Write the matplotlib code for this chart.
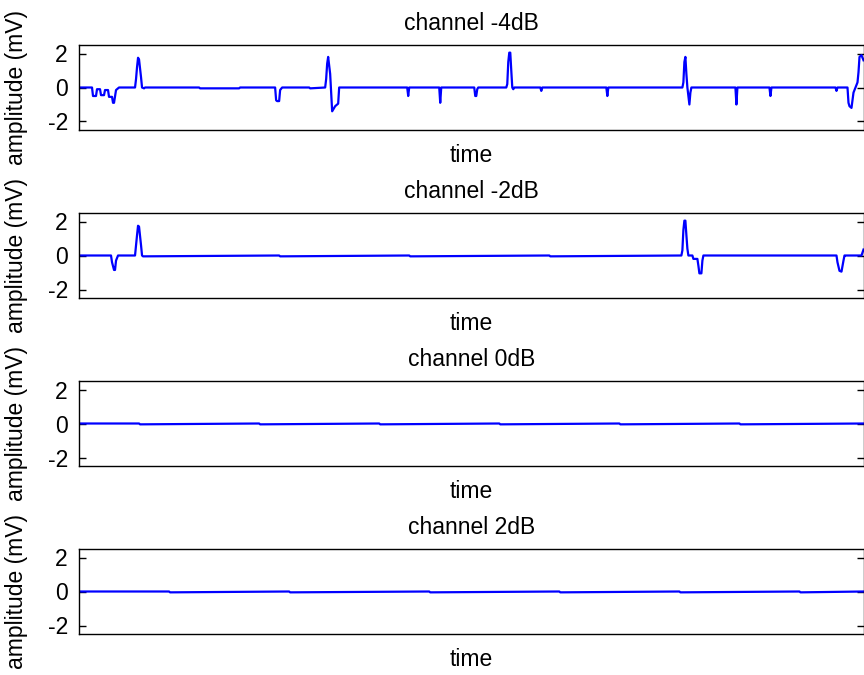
import matplotlib
matplotlib.use("Agg")
import matplotlib.pyplot as plt

# ---------------- data ----------------
titles = ["channel -4dB", "channel -2dB", "channel 0dB", "channel 2dB"]
x_label = "time"
y_label = "amplitude (mV)"
y_ticks = [-2, 0, 2]

# channel -4dB : breakpoints (time, amplitude)
t1 = [0, 13, 14, 17, 18, 21, 22, 25, 26, 29, 30, 33, 34, 35, 37, 40, 56, 57, 58, 59, 60, 62, 63, 65,
      66, 120, 121, 160, 161, 196, 197, 198, 200, 201, 203, 230, 231, 246, 247, 248, 249, 251, 253, 256,
      259, 260, 300, 328, 329, 330, 360, 361, 362, 395, 396, 397, 398, 399, 427, 428, 429, 430, 431, 432,
      433, 434, 435, 461, 462, 463, 527, 528, 529, 603, 604, 605, 606, 607, 608, 610, 611, 612, 656, 657,
      658, 690, 691, 692, 756, 757, 758, 768, 769, 770, 772, 774, 776, 778, 779, 780, 782, 784]
v1 = [0, 0, -0.5, -0.5, -0.1, -0.1, -0.45, -0.45, -0.15, -0.15, -0.55, -0.55, -0.9, -0.9, -0.15, 0, 0, 0.5, 1.2, 1.75, 1.65, 0.6, 0, -0.05,
      0, 0, -0.05, -0.05, 0, 0, -0.75, -0.8, -0.8, -0.15, 0, 0, -0.05, 0, 0.5, 1.4, 1.8, 0.8, -1.4, -1.1,
      -0.95, 0, 0, 0, -0.5, 0, 0, -0.9, 0, 0, -0.5, -0.5, -0.1, 0, 0, 0.2, 1.5, 2.05, 2.05, 1.0,
      0, -0.1, 0, 0, -0.2, 0, 0, -0.5, 0, 0, 0.3, 1.5, 1.8, 0.8, 0, -1.0, -0.3, 0, 0, -1.0,
      0, 0, -0.5, 0, 0, -0.2, 0, 0, -0.9, -1.1, -1.2, -0.3, 0, 0.3, 0.9, 1.8, 1.9, 1.6]

# channel -2dB
t2 = [0, 32, 33, 35, 36, 37, 39, 56, 57, 58, 59, 60, 62, 63, 64, 200, 201, 330, 331, 470, 471,
      602, 603, 604, 605, 606, 607, 608, 609, 613, 614, 618, 619, 620, 622, 623, 624, 700, 757, 758,
      760, 762, 764, 765, 766, 782, 784]
v2 = [0, 0, -0.4, -0.85, -0.85, -0.3, 0, 0, 0.6, 1.2, 1.75, 1.7, 0.6, 0, -0.05, 0, -0.05, 0, -0.05, 0, -0.05,
      0, 0.3, 1.5, 2.05, 2.05, 1.2, 0.4, 0, 0, -0.2, -0.2, -0.6, -1.05, -1.05, -0.3, 0, 0, 0, -0.4,
      -0.9, -0.95, -0.3, 0, 0, 0, 0.35]

# channel 0dB
t3 = [0, 60, 61, 180, 181, 300, 301, 420, 421, 540, 541, 660, 661, 784]
v3 = [0, 0, -0.05, 0, -0.05, 0, -0.05, 0, -0.05, 0, -0.05, 0, -0.05, 0]

# channel 2dB
t4 = [0, 90, 91, 210, 211, 350, 351, 480, 481, 600, 601, 720, 721, 784]
v4 = [0, 0, -0.05, 0, -0.05, 0, -0.05, 0, -0.05, 0, -0.05, 0, -0.05, 0]

series = [(t1, v1), (t2, v2), (t3, v3), (t4, v4)]

# ---------------- figure ----------------
plt.rcParams['font.family'] = ['Liberation Sans', 'DejaVu Sans']
W, H = 864, 675
fig = plt.figure(figsize=(W / 100, H / 100), dpi=100)

left_px, right_px = 79, 863.5
tops_px = [45, 213, 381, 549]
h_px = 85

for i, (t, v) in enumerate(series):
    top = tops_px[i]
    ax = fig.add_axes([left_px / W, 1 - (top + h_px) / H,
                       (right_px - left_px) / W, h_px / H])
    ax.plot(t, v, color='#0000ff', linewidth=1.6)
    ax.set_xlim(0, 784)
    ax.set_ylim(-2.5, 2.5)
    ax.set_yticks(y_ticks)
    ax.set_yticklabels([str(k) for k in y_ticks])
    ax.set_xticks([])
    ax.tick_params(axis='y', direction='in', length=5, width=1, pad=8,
                   labelsize=16.5, right=True, left=True)
    for s in ax.spines.values():
        s.set_linewidth(1.0)
        s.set_color('black')
    ax.set_title(titles[i], fontsize=16.5, pad=11)
    ax.set_xlabel(x_label, fontsize=16.5, labelpad=10)
    ax.set_ylabel(y_label, fontsize=16.5, labelpad=14)

fig.savefig("out.png", dpi=100)
